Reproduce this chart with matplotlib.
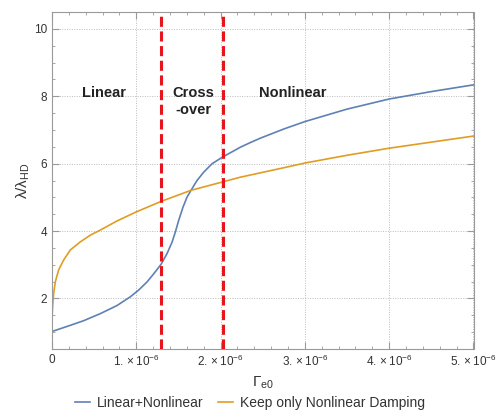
import numpy as np
import matplotlib
matplotlib.use("Agg")
import matplotlib.pyplot as plt

plt.rcParams['font.family'] = ['Liberation Sans', 'DejaVu Sans']
plt.rcParams['mathtext.fontset'] = 'custom'
plt.rcParams['mathtext.rm'] = 'Liberation Sans'
plt.rcParams['mathtext.it'] = 'Liberation Sans:italic'
plt.rcParams['mathtext.bf'] = 'Liberation Sans:bold'

# values (x in units of 1e-6)
x_lin_nl = [0, 0.178, 0.375, 0.573, 0.771, 0.929, 1.028, 1.127, 1.206, 1.293,
            1.364, 1.424, 1.463, 1.503, 1.554, 1.602, 1.649, 1.72, 1.80, 1.899,
            2.025, 2.156, 2.235, 2.355, 2.474, 2.75, 3.0, 3.5, 4.0, 4.5, 5.0]
y_lin_nl = [1.02, 1.17, 1.34, 1.55, 1.79, 2.05, 2.25, 2.49, 2.73, 3.01,
            3.33, 3.67, 3.97, 4.32, 4.71, 5.01, 5.21, 5.50, 5.75, 6.00,
            6.20, 6.38, 6.49, 6.63, 6.76, 7.03, 7.25, 7.62, 7.92, 8.14, 8.34]

x_nl_only = [0, 0.001, 0.003, 0.008, 0.02, 0.04, 0.079, 0.138, 0.217, 0.336, 0.455,
             0.573, 0.771, 1.0, 1.293, 1.649, 2.025, 2.235, 2.474, 2.75, 3.0,
             3.5, 4.0, 4.5, 5.0]
y_nl_only = [1.0, 1.35, 1.55, 1.78, 2.16, 2.50, 2.85, 3.14, 3.44, 3.68, 3.88,
             4.03, 4.30, 4.57, 4.88, 5.21, 5.46, 5.60, 5.73, 5.88, 6.02,
             6.25, 6.46, 6.64, 6.82]

region_bounds = [1.295, 2.025]
region_names = ["Linear", "Cross\n-over", "Nonlinear"]
region_text_x = [0.62, 1.68, 2.85]

xtick_vals = [0, 1, 2, 3, 4, 5]
xtick_labels = ['0', r'$1.\times10^{-6}$', r'$2.\times10^{-6}$', r'$3.\times10^{-6}$',
                r'$4.\times10^{-6}$', r'$5.\times10^{-6}$']
ytick_vals = [2, 4, 6, 8, 10]

blue = '#5E81B5'
orange = '#E19C24'
axcol = '#999999'

fig = plt.figure(figsize=(5, 4.16), dpi=100)
ax = fig.add_axes([0.104, 0.161, 0.843, 0.810])

xs = 1e-6
ax.plot(np.array(x_lin_nl) * xs, y_lin_nl, color=blue, lw=1.2, label='Linear+Nonlinear',
        solid_joinstyle='round')
ax.plot(np.array(x_nl_only) * xs, y_nl_only, color=orange, lw=1.2,
        label='Keep only Nonlinear Damping', solid_joinstyle='round')

for b in region_bounds:
    ax.axvline(b * xs, color='#E8141B', lw=2.2, dashes=(3.3, 1.5), zorder=3)

for tx, name in zip(region_text_x, region_names):
    ax.text(tx * xs, 8.32, name, ha='center', va='top', fontsize=10.5,
            fontweight='bold', color='#222222', linespacing=1.35)

ax.set_xlim(0, 5e-6)
ax.set_ylim(0.5, 10.5)
ax.set_xticks(np.array(xtick_vals) * xs)
ax.set_xticklabels(xtick_labels)
ax.set_xticks(np.arange(0, 5.01, 0.2) * xs, minor=True)
ax.set_yticks(ytick_vals)
ax.set_yticks(np.arange(0.5, 10.51, 0.5), minor=True)

ax.tick_params(which='both', direction='in', top=True, right=True, color=axcol,
               labelsize=8.5, labelcolor='#333333')
ax.tick_params(which='major', length=5, width=0.8)
ax.tick_params(which='minor', length=2.5, width=0.6)
for s in ax.spines.values():
    s.set_color(axcol)
    s.set_linewidth(0.8)

ax.grid(True, which='major', color='#bbbbbb', ls=(0, (1, 1.5)), lw=0.7)

ax.set_xlabel('Γ$_{\\mathrm{e0}}$', fontsize=11, labelpad=4, color='#333333')
ax.set_ylabel('λ/λ$_{\\mathrm{HD}}$', fontsize=11, labelpad=1, color='#333333')

leg = fig.legend(loc='lower center', bbox_to_anchor=(0.5, -0.015), ncol=2, frameon=False,
                 fontsize=10, handlelength=1.1, columnspacing=1.0, handletextpad=0.5)
for t in leg.get_texts():
    t.set_color('#333333')

fig.savefig('out.png', dpi=100)
